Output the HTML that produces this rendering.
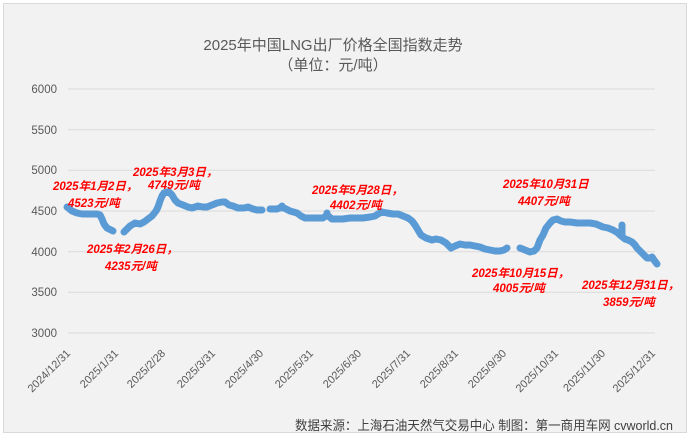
<!DOCTYPE html>
<html><head><meta charset="utf-8"><style>
html,body{margin:0;padding:0;background:#fff;}
svg{display:block;}
text{font-family:"Liberation Sans","Noto Sans CJK SC",sans-serif;}
</style></head><body>
<svg width="690" height="436" viewBox="0 0 690 436" xmlns="http://www.w3.org/2000/svg">
<rect x="3.5" y="3.5" width="683" height="429" fill="#f2f2f2" stroke="#d9d9d9" stroke-width="1"/>
<text x="333" y="50" text-anchor="middle" font-size="15" fill="#595959">2025年中国LNG出厂价格全国指数走势</text>
<text x="333" y="70" text-anchor="middle" font-size="15" fill="#595959">（单位：元/吨）</text>
<g stroke="#d9d9d9" stroke-width="1">
<line x1="68" y1="89" x2="655" y2="89"/>
<line x1="68" y1="129.7" x2="655" y2="129.7"/>
<line x1="68" y1="170.3" x2="655" y2="170.3"/>
<line x1="68" y1="211" x2="655" y2="211"/>
<line x1="68" y1="251.7" x2="655" y2="251.7"/>
<line x1="68" y1="292.3" x2="655" y2="292.3"/>
<line x1="68" y1="333" x2="655" y2="333"/>
</g>
<g font-size="11.5" fill="#595959" text-anchor="end">
<text x="57" y="93">6000</text>
<text x="57" y="134">5500</text>
<text x="57" y="174">5000</text>
<text x="57" y="215">4500</text>
<text x="57" y="256">4000</text>
<text x="57" y="296">3500</text>
<text x="57" y="337">3000</text>
</g>
<g font-size="11" fill="#595959" text-anchor="end">
<text transform="translate(71,354) rotate(-45)">2024/12/31</text>
<text transform="translate(119,354) rotate(-45)">2025/1/31</text>
<text transform="translate(166,354) rotate(-45)">2025/2/28</text>
<text transform="translate(216,354) rotate(-45)">2025/3/31</text>
<text transform="translate(264,354) rotate(-45)">2025/4/30</text>
<text transform="translate(314,354) rotate(-45)">2025/5/31</text>
<text transform="translate(362,354) rotate(-45)">2025/6/30</text>
<text transform="translate(411,354) rotate(-45)">2025/7/31</text>
<text transform="translate(459,354) rotate(-45)">2025/8/31</text>
<text transform="translate(507,354) rotate(-45)">2025/9/30</text>
<text transform="translate(559,354) rotate(-45)">2025/10/31</text>
<text transform="translate(606,354) rotate(-45)">2025/11/30</text>
<text transform="translate(656,354) rotate(-45)">2025/12/31</text>
</g>
<g fill="none" stroke="#5b9bd5" stroke-width="7" stroke-linecap="round" stroke-linejoin="round">
<polyline points="67,207 72,211 77,213 82,214 87,214 92,214 97,214 100,215 102,219 104,224 107,228 111,230 113,231"/>
<polyline points="124,232 127,229 130,226 135,223 140,224 144,222 148,219 152,216 156,211 158,207 160,201 162,196 164,193 167,192 169,192 172,195 175,200 178,203 183,205 188,207 192,208 198,206 203,207 207,207 212,205 217,203 222,202 225,202 229,205 233,206 238,208 244,208 248,207 253,209 257,210 262,210"/>
<polyline points="270,209 277,209 282,207 286,209 290,211 297,213 301,216 305,218 309,218 313,218 318,218 323,218 327,215 332,219 337,219 343,219 350,218 357,218 363,218 370,217 375,216 378,214 382,212 387,213 393,214 398,214 403,216 408,218 412,221 415,225 418,230 421,235 426,238 432,240 436,239 441,240 446,243 451,248 455,246 460,244 465,245 470,245 475,246 480,247 485,249 490,250 495,251 500,251 504,250 507,248"/>
<polyline points="520,248 525,250 530,252 534,251 537,248 540,240 543,235 546,228 550,223 553,220 557,219 561,221 565,222 570,222 577,223 583,223 590,223 596,224 603,227 608,228 613,230 618,233 620,235 625,239 628,240 632,242 635,245 637,248 640,251 643,254 647,258 650,258 652,257 654,260 657,264"/>
<polyline points="622,225 622,236"/>
<polyline points="282,206 282,208"/>
<polyline points="327,213 327,215"/>
</g>
<g font-size="11.5" font-weight="bold" font-style="italic" fill="#ff0000">
<text x="53" y="190">2025年1月2日，</text>
<text x="68" y="207">4523元/吨</text>
<text x="133" y="176">2025年3月3日，</text>
<text x="148" y="189">4749元/吨</text>
<text x="87" y="253">2025年2月26日，</text>
<text x="105" y="270">4235元/吨</text>
<text x="312" y="194">2025年5月28日，</text>
<text x="330" y="209">4402元/吨</text>
<text x="503" y="188">2025年10月31日</text>
<text x="518" y="205">4407元/吨</text>
<text x="472" y="277">2025年10月15日，</text>
<text x="493" y="292">4005元/吨</text>
<text x="582" y="289">2025年12月31日，</text>
<text x="603" y="306">3859元/吨</text>
</g>
<text x="295" y="430" font-size="13" fill="#404040" textLength="378" lengthAdjust="spacingAndGlyphs">数据来源：上海石油天然气交易中心 制图：第一商用车网 cvworld.cn</text>
</svg>
</body></html>
